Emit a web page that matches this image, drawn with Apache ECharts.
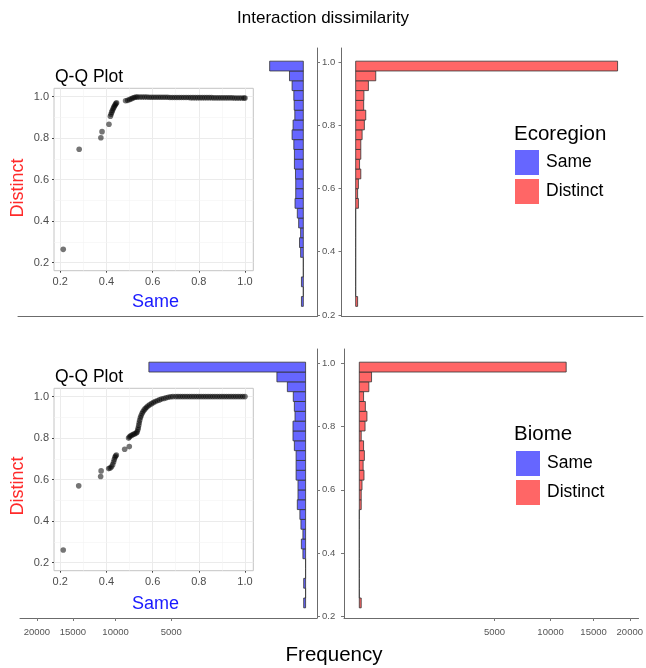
<!DOCTYPE html>
<html>
<head>
<meta charset="utf-8">
<title>Interaction dissimilarity</title>
<script src="https://cdn.jsdelivr.net/npm/echarts@6.0.0/dist/echarts.min.js"></script>
<style>
  html, body { margin: 0; padding: 0; background: #fff; }
  #main { width: 646px; height: 668px; }
</style>
</head>
<body>
<div id="main"></div>
<script>
// histogram bins of dissimilarity, lowest bin first
var binStart = 0.2271;
var binWidth = 0.03105;

// counts per bin (lowest bin first)
var ecoSame = [1, 0, 1, 0, 0, 2, 4, 2, 6, 10, 19, 16, 16, 17, 22, 22, 25, 35, 29, 20, 23, 25, 35, 53, 314];
var ecoDistinct = [1, 0, 0, 0, 0, 0, 0, 0, 0, 0, 2, 1, 2, 7, 4, 7, 7, 11, 20, 27, 17, 18, 43, 107, 18200];
var biomeSame = [1, 0, 1, 0, 0, 2, 5, 2, 6, 9, 19, 16, 16, 25, 25, 25, 35, 44, 44, 31, 35, 42, 92, 228, 6800];
var biomeDistinct = [1, 0, 0, 0, 0, 0, 0, 0, 0, 0, 1, 1, 2, 6, 4, 7, 5, 1, 9, 16, 10, 5, 25, 41, 11700];

var freqTicks = [5000, 10000, 15000, 20000];
var dissTicks = [0.2, 0.4, 0.6, 0.8, 1.0];
var qqMajor = [0.2, 0.4, 0.6, 0.8, 1.0];
var qqMinor = [0.3, 0.5, 0.7, 0.9];

// Q-Q points [same, distinct]
var qqEco = [
  [0.213, 0.264], [0.282, 0.746], [0.376, 0.802], [0.381, 0.831], [0.411, 0.867],
  [0.417, 0.905], [0.420, 0.915], [0.423, 0.925], [0.426, 0.933], [0.429, 0.941],
  [0.432, 0.948], [0.435, 0.955], [0.438, 0.961], [0.441, 0.966], [0.444, 0.970],
  [0.483, 0.980], [0.492, 0.982], [0.500, 0.986], [0.507, 0.989], [0.514, 0.993],
  [0.521, 0.996], [0.528, 0.998], [0.535, 0.998], [0.545, 0.998], [0.555, 0.998],
  [0.565, 0.998], [0.575, 0.998], [0.585, 0.997], [0.595, 0.997], [0.605, 0.997],
  [0.615, 0.997], [0.625, 0.997], [0.635, 0.997], [0.645, 0.997], [0.655, 0.997],
  [0.665, 0.997], [0.675, 0.996], [0.685, 0.996], [0.695, 0.996], [0.705, 0.996],
  [0.715, 0.996], [0.725, 0.996], [0.735, 0.996], [0.745, 0.996], [0.755, 0.996],
  [0.765, 0.995], [0.775, 0.995], [0.785, 0.995], [0.795, 0.995], [0.805, 0.995],
  [0.815, 0.995], [0.825, 0.995], [0.835, 0.995], [0.845, 0.995], [0.855, 0.995],
  [0.865, 0.994], [0.875, 0.994], [0.885, 0.994], [0.895, 0.994], [0.905, 0.994],
  [0.915, 0.994], [0.925, 0.994], [0.935, 0.994], [0.945, 0.994], [0.955, 0.993],
  [0.965, 0.993], [0.975, 0.993], [0.985, 0.993], [0.995, 0.993], [1.000, 0.993]
];
var qqBiome = [
  [0.213, 0.261], [0.280, 0.570], [0.375, 0.615], [0.377, 0.642], [0.410, 0.653],
  [0.416, 0.656], [0.422, 0.662], [0.427, 0.672], [0.431, 0.685], [0.434, 0.697],
  [0.437, 0.708], [0.440, 0.714], [0.443, 0.718], [0.479, 0.746], [0.499, 0.759],
  [0.496, 0.800], [0.500, 0.806], [0.505, 0.811], [0.511, 0.815], [0.517, 0.818],
  [0.523, 0.821], [0.529, 0.824], [0.533, 0.830], [0.536, 0.840], [0.538, 0.850],
  [0.540, 0.862], [0.542, 0.874], [0.544, 0.886], [0.547, 0.898], [0.550, 0.908],
  [0.554, 0.918], [0.558, 0.927], [0.563, 0.935], [0.568, 0.942], [0.574, 0.949],
  [0.580, 0.955], [0.587, 0.961], [0.595, 0.966], [0.603, 0.971], [0.611, 0.976],
  [0.620, 0.980], [0.629, 0.984], [0.638, 0.988], [0.648, 0.991], [0.658, 0.994],
  [0.668, 0.997], [0.678, 0.999], [0.688, 1.000], [0.700, 1.000], [0.710, 1.000],
  [0.720, 1.000], [0.730, 1.000], [0.740, 1.000], [0.750, 1.000], [0.760, 1.000],
  [0.770, 1.000], [0.780, 1.000], [0.790, 1.000], [0.800, 1.000], [0.810, 1.000],
  [0.820, 1.000], [0.830, 1.000], [0.840, 1.000], [0.850, 1.000], [0.860, 1.000],
  [0.870, 1.000], [0.880, 1.000], [0.890, 1.000], [0.900, 1.000], [0.910, 1.000],
  [0.920, 1.000], [0.930, 1.000], [0.940, 1.000], [0.950, 1.000], [0.960, 1.000],
  [0.970, 1.000], [0.980, 1.000], [0.990, 1.000], [1.000, 1.000]
];

var FONT = "'Liberation Sans', Arial, sans-serif";
var BLUE = '#6666ff';
var RED = '#ff6666';

// frequency axis is square-root scaled: bars use sqrt(count)
function binData(counts) {
  return counts.map(function (c, i) {
    var lo = binStart + i * binWidth;
    return [Math.sqrt(c), lo, lo + binWidth, c];
  });
}

function renderBar(params, api) {
  var a = api.coord([0, api.value(2)]);
  var b = api.coord([api.value(0), api.value(1)]);
  return {
    type: 'rect',
    shape: {
      x: Math.min(a[0], b[0]),
      y: a[1],
      width: Math.abs(b[0] - a[0]),
      height: b[1] - a[1]
    },
    style: { fill: api.visual('color'), stroke: '#333', lineWidth: 0.8 }
  };
}

function freqAxis(grid, inverse, min, max, labels) {
  return {
    type: 'value', gridIndex: grid, inverse: inverse, min: min, max: max,
    axisLine: { show: true, onZero: false, lineStyle: { color: '#6b6b6b', width: 1 } },
    axisTick: { show: labels, length: 3, lineStyle: { color: '#777' },
      customValues: freqTicks.map(Math.sqrt) },
    axisLabel: { show: labels, margin: 9, fontSize: 9.5, fontFamily: FONT, color: '#555',
      customValues: freqTicks.map(Math.sqrt),
      formatter: function (v) { return String(Math.round(v * v)); } },
    splitLine: { show: false }
  };
}

function dissAxis(grid, pos, labels) {
  return {
    type: 'value', gridIndex: grid, position: pos, min: 0.195, max: 1.045,
    axisLine: { show: true, onZero: false, lineStyle: { color: '#6b6b6b', width: 1 } },
    axisTick: { show: true, length: 3, lineStyle: { color: '#777' }, customValues: dissTicks },
    axisLabel: { show: labels, margin: 5, fontSize: 9.5, fontFamily: FONT, color: '#555',
      customValues: dissTicks,
      formatter: function (v) { return v.toFixed(1); } },
    splitLine: { show: false }
  };
}

function qqAxis(grid, min, max, margin) {
  return {
    type: 'value', gridIndex: grid, min: min, max: max,
    axisLine: { show: false },
    axisTick: { show: true, length: 2, lineStyle: { color: '#444' }, customValues: qqMajor },
    axisLabel: { margin: margin, fontSize: 11, fontFamily: FONT, color: '#4d4d4d',
      customValues: qqMajor,
      formatter: function (v) { return v.toFixed(1); } },
    splitLine: { show: false }
  };
}

function qqLines(idx) {
  var d = [];
  qqMajor.forEach(function (v) {
    d.push({ xAxis: v, lineStyle: { color: '#ebebeb', width: 1 } });
    d.push({ yAxis: v, lineStyle: { color: '#ebebeb', width: 1 } });
  });
  qqMinor.forEach(function (v) {
    d.push({ xAxis: v, lineStyle: { color: '#f4f4f4', width: 0.6 } });
    d.push({ yAxis: v, lineStyle: { color: '#f4f4f4', width: 0.6 } });
  });
  return {
    type: 'line', xAxisIndex: idx, yAxisIndex: idx, data: [], z: 1, silent: true,
    markLine: { silent: true, symbol: 'none', animation: false, z: 1,
      label: { show: false }, lineStyle: { type: 'solid' }, data: d }
  };
}

function qqSeries(idx, pts) {
  return {
    type: 'scatter', xAxisIndex: idx, yAxisIndex: idx, data: pts, z: 8,
    symbolSize: 5.6, itemStyle: { color: 'rgba(0,0,0,0.68)' }, silent: true
  };
}

function txt(x, y, s, size, color, align, rot) {
  return {
    type: 'text', x: x, y: y, rotation: rot || 0, z: 10,
    style: { text: s, x: 0, y: 0, fontSize: size, fontFamily: FONT, fill: color || '#000',
      align: align || 'center', verticalAlign: 'middle' }
  };
}

function legendAt(left, top) {
  return {
    left: left, top: top, orient: 'vertical', icon: 'rect', padding: 0,
    itemWidth: 24, itemHeight: 25, itemGap: 4, selectedMode: false,
    itemStyle: { borderWidth: 0 },
    textStyle: { fontSize: 17.5, fontFamily: FONT, color: '#000', padding: [0, 0, 0, 2] },
    data: ['Same', 'Distinct']
  };
}

var chart = echarts.init(document.getElementById('main'));

var option = {
  animation: false,
  backgroundColor: '#fff',
  grid: [
    { left: 18, top: 48, width: 299, height: 268.5 },
    { left: 341.5, top: 48, width: 301.5, height: 268.5 },
    { left: 20, top: 349, width: 297, height: 269 },
    { left: 344, top: 349, width: 299, height: 269 },
    { left: 54, top: 88.3, width: 199.3, height: 182.4, show: true,
      backgroundColor: '#fff', borderColor: '#c4c4c4', borderWidth: 1 },
    { left: 54, top: 388.3, width: 199.3, height: 182.4, show: true,
      backgroundColor: '#fff', borderColor: '#c4c4c4', borderWidth: 1 }
  ],
  xAxis: [
    freqAxis(0, true, -7.2, 150.2, false),
    freqAxis(1, false, -7.3, 148, false),
    freqAxis(2, true, -6, 150.3, true),
    freqAxis(3, false, -8, 146, true),
    qqAxis(4, 0.173, 1.036, 6),
    qqAxis(5, 0.173, 1.036, 6)
  ],
  yAxis: [
    dissAxis(0, 'right', true),
    dissAxis(1, 'left', false),
    dissAxis(2, 'right', true),
    dissAxis(3, 'left', false),
    qqAxis(4, 0.161, 1.040, 5),
    qqAxis(5, 0.161, 1.040, 5)
  ],
  legend: [legendAt(515, 150), legendAt(516, 451)],
  series: [
    { type: 'custom', name: 'Same', xAxisIndex: 0, yAxisIndex: 0, renderItem: renderBar,
      itemStyle: { color: BLUE }, encode: { x: 0, y: [1, 2] }, data: binData(ecoSame) },
    { type: 'custom', name: 'Distinct', xAxisIndex: 1, yAxisIndex: 1, renderItem: renderBar,
      itemStyle: { color: RED }, encode: { x: 0, y: [1, 2] }, data: binData(ecoDistinct) },
    { type: 'custom', name: 'Same', xAxisIndex: 2, yAxisIndex: 2, renderItem: renderBar,
      itemStyle: { color: BLUE }, encode: { x: 0, y: [1, 2] }, data: binData(biomeSame) },
    { type: 'custom', name: 'Distinct', xAxisIndex: 3, yAxisIndex: 3, renderItem: renderBar,
      itemStyle: { color: RED }, encode: { x: 0, y: [1, 2] }, data: binData(biomeDistinct) },
    qqLines(4),
    qqSeries(4, qqEco),
    qqLines(5),
    qqSeries(5, qqBiome)
  ],
  graphic: [
    txt(323, 18, 'Interaction dissimilarity', 17),
    txt(334, 655, 'Frequency', 20.5),
    txt(55, 77, 'Q-Q Plot', 17.5, '#000', 'left'),
    txt(55, 377, 'Q-Q Plot', 17.5, '#000', 'left'),
    txt(18.5, 188, 'Distinct', 18, '#ff2a2a', 'center', Math.PI / 2),
    txt(18.5, 486, 'Distinct', 18, '#ff2a2a', 'center', Math.PI / 2),
    txt(155.5, 302, 'Same', 18, '#1a1aff'),
    txt(155.5, 604, 'Same', 18, '#1a1aff'),
    txt(514, 134, 'Ecoregion', 20.5, '#000', 'left'),
    txt(514, 434.5, 'Biome', 20.5, '#000', 'left')
  ]
};

chart.setOption(option);
</script>
</body>
</html>
